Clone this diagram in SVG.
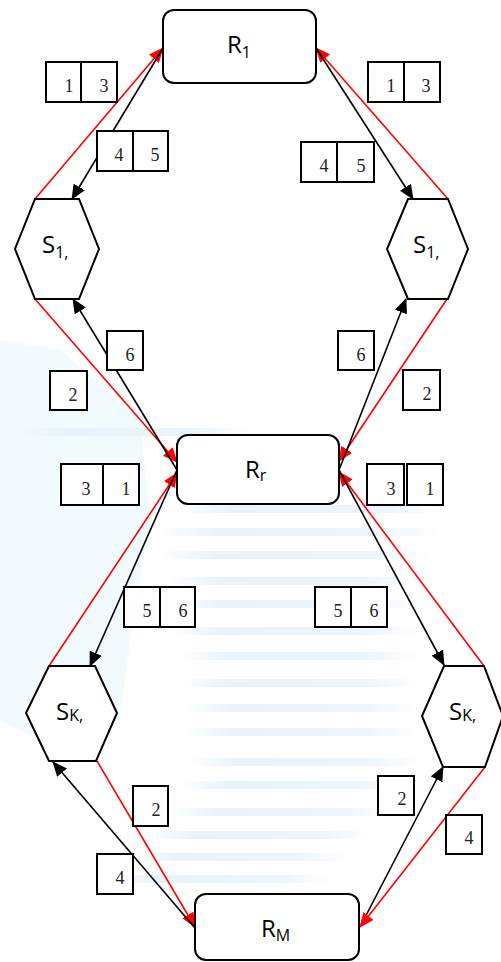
<svg xmlns="http://www.w3.org/2000/svg" width="501" height="962" viewBox="0 0 501 962">
<defs>
<style>
.node{fill:#fff;stroke:#000;stroke-width:2}
.box{fill:#fff;stroke:#000;stroke-width:2}
.num{font-family:"Liberation Serif",serif;font-size:18px;fill:#222;text-anchor:middle}
.lab{font-family:"Open Sans","Liberation Sans",sans-serif;font-size:24px;fill:#000}
.sub{font-size:16px}
.blk{stroke:#000;stroke-width:1.6;fill:none;marker-end:url(#ab)}
.red{stroke:#f00;stroke-width:1.6;fill:none;marker-end:url(#ar)}
.stripe{fill:url(#sg)}
</style>
<marker id="ab" markerWidth="15" markerHeight="13" refX="14" refY="6.5" orient="auto" markerUnits="userSpaceOnUse"><path d="M0,0 L15,6.5 L0,13 z" fill="#000"/></marker>
<marker id="ar" markerWidth="15" markerHeight="13" refX="14" refY="6.5" orient="auto" markerUnits="userSpaceOnUse"><path d="M0,0 L15,6.5 L0,13 z" fill="#f00"/></marker>
<linearGradient id="sg" x1="0" x2="1" y1="0" y2="0"><stop offset="0" stop-color="#d3e9f6" stop-opacity="0"/><stop offset="0.2" stop-color="#d3e9f6" stop-opacity="0.9"/><stop offset="0.75" stop-color="#d3e9f6" stop-opacity="0.8"/><stop offset="1" stop-color="#d3e9f6" stop-opacity="0"/></linearGradient>
</defs>
<rect width="501" height="962" fill="#fff"/>
<g id="watermark" opacity="0.55">
<path d="M0,340 L60,350 L140,420 L150,520 L130,640 L120,720 L40,740 L0,720 z" fill="#e6f7fc"/>
<rect class="stripe" x="20" y="428" width="230" height="8"/>
<rect class="stripe" x="180" y="505" width="260" height="8"/>
<rect class="stripe" x="160" y="528" width="280" height="8"/>
<rect class="stripe" x="160" y="551" width="270" height="8"/>
<rect class="stripe" x="170" y="577" width="250" height="8"/>
<rect class="stripe" x="170" y="600" width="250" height="8"/>
<rect class="stripe" x="170" y="627" width="250" height="8"/>
<rect class="stripe" x="180" y="652" width="240" height="8"/>
<rect class="stripe" x="180" y="679" width="240" height="8"/>
<rect class="stripe" x="185" y="704" width="230" height="8"/>
<rect class="stripe" x="185" y="728" width="230" height="8"/>
<rect class="stripe" x="190" y="758" width="230" height="8"/>
<rect class="stripe" x="180" y="781" width="230" height="8"/>
<rect class="stripe" x="170" y="808" width="220" height="8"/>
<rect class="stripe" x="150" y="831" width="220" height="8"/>
<rect class="stripe" x="130" y="853" width="220" height="8"/>
<rect class="stripe" x="110" y="875" width="220" height="8"/>
</g>
<g id="connectors">
<line class="red" x1="35" y1="199" x2="163" y2="48"/>
<line class="blk" x1="163" y1="48" x2="72" y2="199"/>
<line class="red" x1="448" y1="199" x2="316" y2="48"/>
<line class="blk" x1="316" y1="48" x2="413" y2="199"/>
<line class="red" x1="35" y1="299" x2="177" y2="462"/>
<line class="blk" x1="177" y1="470" x2="73" y2="299"/>
<line class="red" x1="447" y1="299" x2="339" y2="461"/>
<line class="blk" x1="339" y1="470" x2="406" y2="299"/>
<line class="red" x1="49" y1="666" x2="177" y2="473"/>
<line class="blk" x1="177" y1="470" x2="90" y2="666"/>
<line class="red" x1="484" y1="666" x2="339" y2="472"/>
<line class="blk" x1="339" y1="470" x2="444" y2="665"/>
<line class="red" x1="97" y1="761" x2="195" y2="927"/>
<line class="blk" x1="195" y1="928" x2="53" y2="762"/>
<line class="blk" x1="360" y1="927" x2="443" y2="767"/>
<line class="red" x1="485" y1="767" x2="360" y2="927"/>
</g>
<g id="R1"><rect class="node" x="163" y="10" width="153" height="73" rx="11"/><text class="lab" x="227" y="53">R<tspan class="sub" dy="5">1</tspan></text></g>
<g id="S1L"><polygon class="node" points="35,199 79,199 99,249 79,299 35,299 15,249"/><text class="lab" x="42" y="253">S<tspan class="sub" dy="5">1,</tspan></text></g>
<g id="S1R"><polygon class="node" points="408,199 448,199 468,249 448,299 408,299 387,249"/><text class="lab" x="413" y="253">S<tspan class="sub" dy="5">1,</tspan></text></g>
<g id="Rr"><rect class="node" x="177" y="435" width="162" height="69" rx="11"/><text class="lab" x="245" y="478">R<tspan class="sub" dy="3">r</tspan></text></g>
<g id="SKL"><polygon class="node" points="49,666 95,666 117,713 96,761 49,761 26,713"/><text class="lab" x="56" y="720">S<tspan class="sub" font-size="14" dy="1">K,</tspan></text></g>
<g id="SKR"><polygon class="node" points="444,666 484,666 503,716 485,767 443,767 422,716"/><text class="lab" x="449" y="720">S<tspan class="sub" font-size="14" dy="1">K,</tspan></text></g>
<g id="RM"><rect class="node" x="195" y="894" width="164" height="66" rx="11"/><text class="lab" x="261" y="937">R<tspan class="sub" dy="4">M</tspan></text></g>
<g id="labels">
<g id="l13a"><rect class="box" x="46" y="62" width="35" height="40"/><rect class="box" x="81" y="62" width="36" height="40"/><text class="num" x="69" y="92">1</text><text class="num" x="104" y="92">3</text></g>
<g id="l45a"><rect class="box" x="97" y="131" width="36" height="40"/><rect class="box" x="133" y="131" width="35" height="40"/><text class="num" x="119" y="161">4</text><text class="num" x="155" y="161">5</text></g>
<g id="l13b"><rect class="box" x="368" y="62" width="36" height="40"/><rect class="box" x="404" y="62" width="36" height="40"/><text class="num" x="391" y="92">1</text><text class="num" x="426" y="92">3</text></g>
<g id="l45b"><rect class="box" x="301" y="142" width="36" height="40"/><rect class="box" x="337" y="142" width="37" height="40"/><text class="num" x="324" y="172">4</text><text class="num" x="361" y="172">5</text></g>
<g id="l6a"><rect class="box" x="107" y="331" width="36" height="39"/><text class="num" x="130" y="361">6</text></g>
<g id="l2a"><rect class="box" x="50" y="371" width="37" height="39"/><text class="num" x="73" y="401">2</text></g>
<g id="l6b"><rect class="box" x="338" y="331" width="36" height="39"/><text class="num" x="361" y="361">6</text></g>
<g id="l2b"><rect class="box" x="403" y="370" width="37" height="40"/><text class="num" x="427" y="400">2</text></g>
<g id="l31a"><rect class="box" x="61" y="464" width="42" height="41"/><rect class="box" x="103" y="464" width="36" height="41"/><text class="num" x="86" y="495">3</text><text class="num" x="126" y="495">1</text></g>
<g id="l31b"><rect class="box" x="367" y="464" width="37" height="41"/><rect class="box" x="407" y="464" width="36" height="41"/><text class="num" x="391" y="495">3</text><text class="num" x="430" y="495">1</text></g>
<g id="l56a"><rect class="box" x="124" y="587" width="36" height="40"/><rect class="box" x="160" y="587" width="35" height="40"/><text class="num" x="147" y="617">5</text><text class="num" x="183" y="617">6</text></g>
<g id="l56b"><rect class="box" x="315" y="587" width="36" height="40"/><rect class="box" x="351" y="587" width="36" height="40"/><text class="num" x="338" y="617">5</text><text class="num" x="374" y="617">6</text></g>
<g id="l2c"><rect class="box" x="133" y="786" width="35" height="40"/><text class="num" x="156" y="816">2</text></g>
<g id="l4c"><rect class="box" x="97" y="854" width="36" height="40"/><text class="num" x="120" y="884">4</text></g>
<g id="l2d"><rect class="box" x="378" y="776" width="36" height="39"/><text class="num" x="402" y="805">2</text></g>
<g id="l4d"><rect class="box" x="446" y="815" width="36" height="39"/><text class="num" x="469" y="844">4</text></g>
</g>
</svg>
